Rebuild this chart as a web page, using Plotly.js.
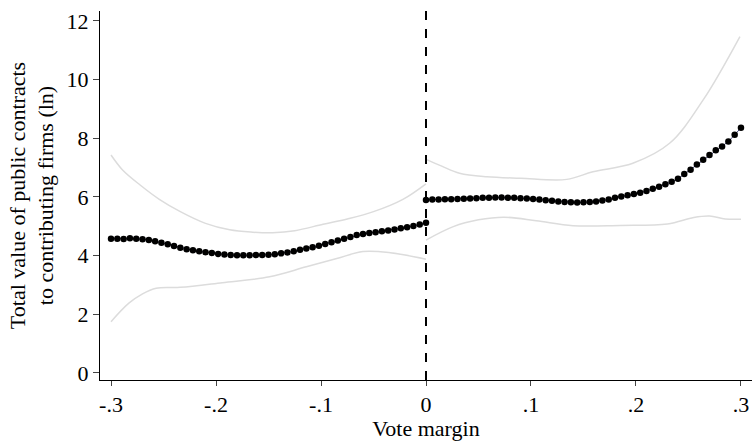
<!DOCTYPE html>
<html>
<head>
<meta charset="utf-8">
<script src="https://cdn.plot.ly/plotly-3.0.1.min.js"></script>
<style>html,body{margin:0;padding:0;background:#fff;}#chart{width:752px;height:441px;}</style>
</head>
<body>
<div id="chart"></div>
<script>
// Fitted values, left of the cutoff (x = -0.300 ... 0.000, step 0.006)
const leftX = [-0.300,-0.294,-0.288,-0.282,-0.276,-0.270,-0.264,-0.258,-0.252,-0.246,-0.240,-0.234,-0.228,-0.222,-0.216,-0.210,-0.204,-0.198,-0.192,-0.186,-0.180,-0.174,-0.168,-0.162,-0.156,-0.150,-0.144,-0.138,-0.132,-0.126,-0.120,-0.114,-0.108,-0.102,-0.096,-0.090,-0.084,-0.078,-0.072,-0.066,-0.060,-0.054,-0.048,-0.042,-0.036,-0.030,-0.024,-0.018,-0.012,-0.006,0.000];
const leftFit = [4.58,4.58,4.57,4.59,4.58,4.56,4.53,4.49,4.44,4.39,4.33,4.27,4.22,4.18,4.15,4.12,4.09,4.06,4.04,4.02,4.01,4.01,4.01,4.02,4.02,4.03,4.05,4.08,4.11,4.15,4.20,4.24,4.29,4.34,4.40,4.46,4.52,4.58,4.64,4.70,4.74,4.77,4.80,4.83,4.86,4.89,4.93,4.97,5.01,5.06,5.12];

// Fitted values, right of the cutoff (x = 0.000 ... 0.300, step 0.006)
const rightX = [0.000,0.006,0.012,0.018,0.024,0.030,0.036,0.042,0.048,0.054,0.060,0.066,0.072,0.078,0.084,0.090,0.096,0.102,0.108,0.114,0.120,0.126,0.132,0.138,0.144,0.150,0.156,0.162,0.168,0.174,0.180,0.186,0.192,0.198,0.204,0.210,0.216,0.222,0.228,0.234,0.240,0.246,0.252,0.258,0.264,0.270,0.276,0.282,0.288,0.294,0.300];
const rightFit = [5.90,5.91,5.91,5.92,5.92,5.93,5.94,5.95,5.96,5.97,5.97,5.98,5.98,5.97,5.97,5.96,5.95,5.93,5.91,5.89,5.87,5.85,5.83,5.82,5.81,5.82,5.83,5.85,5.88,5.91,5.97,6.02,6.06,6.10,6.14,6.20,6.28,6.35,6.43,6.52,6.62,6.78,6.93,7.11,7.27,7.43,7.59,7.72,7.89,8.12,8.36];

// Confidence bands
const leftUpperX = [-0.300,-0.289,-0.272,-0.254,-0.234,-0.210,-0.187,-0.165,-0.146,-0.125,-0.098,-0.075,-0.050,-0.022,0.000];
const leftUpper  = [7.43,6.92,6.40,5.92,5.50,5.10,4.88,4.80,4.78,4.85,5.07,5.25,5.50,5.92,6.45];
const leftLowerX = [-0.300,-0.283,-0.270,-0.257,-0.234,-0.194,-0.149,-0.114,-0.085,-0.060,-0.034,0.000];
const leftLower  = [1.75,2.38,2.70,2.89,2.92,3.08,3.28,3.62,3.90,4.14,4.10,3.88];
const rightUpperX = [0.000,0.015,0.032,0.058,0.090,0.134,0.159,0.197,0.232,0.264,0.299];
const rightUpper  = [7.28,7.05,6.81,6.69,6.64,6.60,6.86,7.15,7.83,9.31,11.47];
const rightLowerX = [0.000,0.026,0.050,0.074,0.105,0.140,0.185,0.230,0.255,0.270,0.285,0.300];
const rightLower  = [4.53,4.99,5.22,5.31,5.19,5.02,5.03,5.08,5.30,5.35,5.25,5.24];

const xTickVals = [-0.3,-0.2,-0.1,0,0.1,0.2,0.3];
const xTickText = ['-.3','-.2','-.1','0','.1','.2','.3'];
const yTickVals = [0,2,4,6,8,10,12];
const yTickText = ['0','2','4','6','8','10','12'];

const ciStyle = {color:'#dcdcdc', width:1.5, shape:'spline'};
const fitLine = {color:'#1a1a5e', width:0.8};
const fitMarker = {color:'#000000', size:6.5, symbol:'circle'};

const traces = [
  {x:leftUpperX, y:leftUpper, mode:'lines', line:ciStyle, hoverinfo:'skip'},
  {x:leftLowerX, y:leftLower, mode:'lines', line:ciStyle, hoverinfo:'skip'},
  {x:rightUpperX, y:rightUpper, mode:'lines', line:ciStyle, hoverinfo:'skip'},
  {x:rightLowerX, y:rightLower, mode:'lines', line:ciStyle, hoverinfo:'skip'},
  {x:leftX, y:leftFit, mode:'lines+markers', line:fitLine, marker:fitMarker},
  {x:rightX, y:rightFit, mode:'lines+markers', line:fitLine, marker:fitMarker}
];

const font = {family:'"Liberation Serif", "Times New Roman", serif', color:'#000', size:22};

const layout = {
  width:752, height:441,
  margin:{l:100, r:0, t:11, b:61},
  paper_bgcolor:'#fff', plot_bgcolor:'#fff',
  showlegend:false,
  font:font,
  xaxis:{
    range:[-0.3105,0.3105],
    tickvals:xTickVals, ticktext:xTickText,
    ticks:'outside', ticklen:5, tickwidth:1, tickcolor:'#444',
    showline:true, linecolor:'#000', linewidth:1,
    showgrid:false, zeroline:false,
    tickfont:font,
    title:{text:'Vote margin', font:font, standoff:2}
  },
  yaxis:{
    range:[-0.239,12.34],
    tickvals:yTickVals, ticktext:yTickText,
    ticks:'outside', ticklen:6, tickwidth:1, tickcolor:'#444',
    showline:true, linecolor:'#000', linewidth:1,
    showgrid:false, zeroline:false,
    tickfont:font,
    title:{text:'Total value of public contracts<br>to contributing firms (ln)', font:font, standoff:6}
  },
  shapes:[{
    type:'line', xref:'x', yref:'paper', x0:0, x1:0, y0:0, y1:1,
    line:{color:'#000', width:2, dash:'dash'}
  }]
};

Plotly.newPlot('chart', traces, layout, {staticPlot:true, displayModeBar:false});
</script>
</body>
</html>
